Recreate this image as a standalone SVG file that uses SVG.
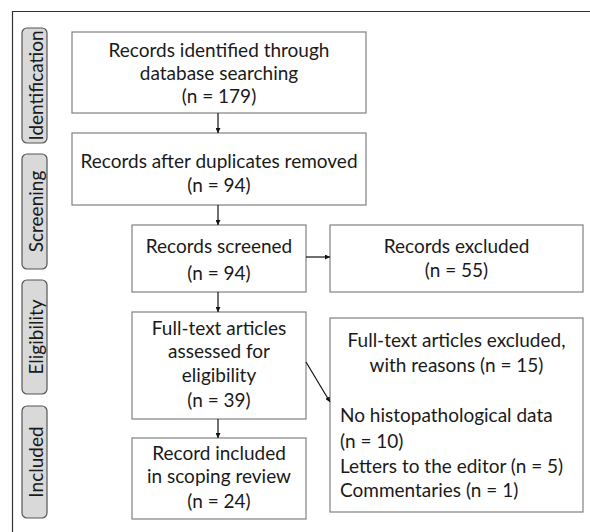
<svg xmlns="http://www.w3.org/2000/svg" width="590" height="532" viewBox="0 0 590 532">
<defs>
<style>
.t{font-family:Lato,"Liberation Sans",sans-serif;font-size:19px;fill:#1a1a1a;text-anchor:middle}
.l{text-anchor:start}
.box{fill:#fff;stroke:#808080;stroke-width:1.2}
.pill{fill:#d9d9d9;stroke:#555;stroke-width:1.2}
.c{stroke:#111;stroke-width:1.2;fill:none;marker-end:url(#ah)}
</style>
<marker id="ah" viewBox="0 0 10 10" refX="10" refY="5" markerWidth="5" markerHeight="5" markerUnits="userSpaceOnUse" orient="auto">
<path d="M0,0 L10,5 L0,10 z" fill="#111"/>
</marker>
</defs>
<rect width="590" height="532" fill="#fff"/>
<path d="M590,11.5 H12.5 V532" fill="none" stroke="#333" stroke-width="1.2"/>

<g id="phase-identification">
<rect class="pill" x="22" y="28" width="25" height="115" rx="5"/>
<text class="t" transform="translate(42.5,85.5) rotate(-90)">Identification</text>
</g>
<g id="phase-screening">
<rect class="pill" x="22" y="154" width="25" height="115" rx="5"/>
<text class="t" transform="translate(42.5,211.5) rotate(-90)">Screening</text>
</g>
<g id="phase-eligibility">
<rect class="pill" x="22" y="280" width="25" height="114" rx="5"/>
<text class="t" transform="translate(42.5,337) rotate(-90)">Eligibility</text>
</g>
<g id="phase-included">
<rect class="pill" x="22" y="406" width="25" height="112" rx="5"/>
<text class="t" transform="translate(42.5,462) rotate(-90)">Included</text>
</g>

<g id="identified">
<rect class="box" x="72" y="32" width="294" height="81"/>
<text class="t" x="219" y="57">Records identified through</text>
<text class="t" x="219" y="80">database searching</text>
<text class="t" x="219" y="103">(n = 179)</text>
</g>
<g id="deduplicated">
<rect class="box" x="72" y="133" width="294" height="72"/>
<text class="t" x="219" y="168">Records after duplicates removed</text>
<text class="t" x="219" y="192">(n = 94)</text>
</g>
<g id="screened">
<rect class="box" x="132" y="225" width="174" height="67"/>
<text class="t" x="219" y="253">Records screened</text>
<text class="t" x="219" y="280">(n = 94)</text>
</g>
<g id="excluded">
<rect class="box" x="330" y="225" width="253" height="67"/>
<text class="t" x="456.5" y="253">Records excluded</text>
<text class="t" x="456.5" y="277">(n = 55)</text>
</g>
<g id="fulltext">
<rect class="box" x="132" y="312" width="174" height="107"/>
<text class="t" x="219" y="335">Full-text articles</text>
<text class="t" x="219" y="358">assessed for</text>
<text class="t" x="219" y="382">eligibility</text>
<text class="t" x="219" y="407">(n = 39)</text>
</g>
<g id="fulltext-excluded">
<rect class="box" x="330" y="318" width="253" height="194"/>
<text class="t" x="456.5" y="347">Full-text articles excluded,</text>
<text class="t" x="456.5" y="372">with reasons (n = 15)</text>
<text class="t l" x="340" y="422">No histopathological data</text>
<text class="t l" x="340" y="448">(n = 10)</text>
<text class="t l" x="340" y="473">Letters to the editor (n = 5)</text>
<text class="t l" x="340" y="497">Commentaries (n = 1)</text>
</g>
<g id="included">
<rect class="box" x="132" y="438" width="174" height="81"/>
<text class="t" x="219" y="460">Record included</text>
<text class="t" x="219" y="483">in scoping review</text>
<text class="t" x="219" y="508">(n = 24)</text>
</g>

<g id="connectors">
<line class="c" x1="218" y1="113" x2="218" y2="133"/>
<line class="c" x1="218" y1="205" x2="218" y2="225"/>
<line class="c" x1="306" y1="257" x2="330" y2="257"/>
<line class="c" x1="218" y1="292" x2="218" y2="312"/>
<line class="c" x1="306" y1="362" x2="330" y2="402"/>
<line class="c" x1="218" y1="419" x2="218" y2="438"/>
</g>
</svg>
